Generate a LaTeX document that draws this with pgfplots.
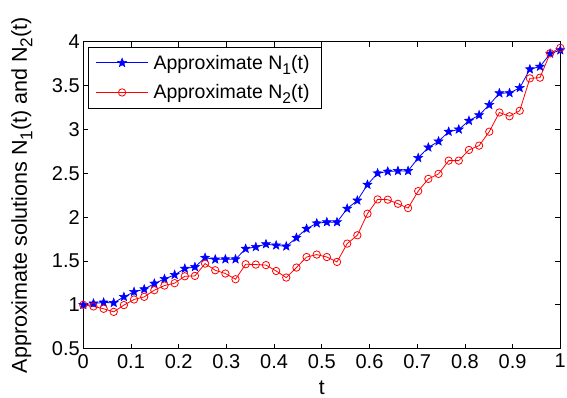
\documentclass[border=0pt]{standalone}
\usepackage{fontspec}
\setmainfont{Liberation Sans}
\usepackage{pgfplots}
\pgfplotsset{compat=1.18}
\usepackage{pgfplotstable}

\newcommand{\sub}[1]{\raisebox{-0.5ex}{\fontsize{0.8em}{0.8em}\selectfont #1}}

\pgfdeclareplotmark{pstar}{%
  \pgfpathmoveto{\pgfpointpolar{90}{1.3*\pgfplotmarksize}}%
  \pgfpathlineto{\pgfpointpolar{126}{0.55*\pgfplotmarksize}}%
  \pgfpathlineto{\pgfpointpolar{162}{1.3*\pgfplotmarksize}}%
  \pgfpathlineto{\pgfpointpolar{198}{0.55*\pgfplotmarksize}}%
  \pgfpathlineto{\pgfpointpolar{234}{1.3*\pgfplotmarksize}}%
  \pgfpathlineto{\pgfpointpolar{270}{0.55*\pgfplotmarksize}}%
  \pgfpathlineto{\pgfpointpolar{306}{1.3*\pgfplotmarksize}}%
  \pgfpathlineto{\pgfpointpolar{342}{0.55*\pgfplotmarksize}}%
  \pgfpathlineto{\pgfpointpolar{18}{1.3*\pgfplotmarksize}}%
  \pgfpathlineto{\pgfpointpolar{54}{0.55*\pgfplotmarksize}}%
  \pgfpathclose
  \pgfusepathqfillstroke
}

\pgfplotstableread{
t      n1     n2
0.0000 1.000  1.000
0.0213 1.016  0.982
0.0426 1.027  0.955
0.0638 1.023  0.920
0.0851 1.091  0.997
0.1064 1.148  1.061
0.1277 1.178  1.091
0.1489 1.243  1.167
0.1702 1.295  1.220
0.1915 1.342  1.247
0.2128 1.413  1.326
0.2340 1.432  1.330
0.2553 1.537  1.470
0.2766 1.518  1.394
0.2979 1.520  1.357
0.3191 1.520  1.292
0.3404 1.640  1.463
0.3617 1.660  1.459
0.3830 1.692  1.453
0.4043 1.678  1.386
0.4255 1.667  1.311
0.4468 1.765  1.425
0.4681 1.868  1.545
0.4894 1.930  1.573
0.5106 1.943  1.545
0.5319 1.943  1.489
0.5532 2.097  1.698
0.5745 2.190  1.793
0.5957 2.370  2.039
0.6170 2.500  2.202
0.6383 2.520  2.199
0.6596 2.527  2.152
0.6809 2.527  2.103
0.7021 2.675  2.297
0.7234 2.795  2.436
0.7447 2.864  2.493
0.7660 2.974  2.644
0.7872 3.000  2.644
0.8085 3.099  2.766
0.8298 3.163  2.815
0.8511 3.280  2.974
0.8723 3.413  3.193
0.8936 3.415  3.150
0.9149 3.473  3.213
0.9362 3.686  3.582
0.9574 3.716  3.590
0.9787 3.864  3.868
1.0000 3.903  3.930
}\datatable

\begin{document}
\begin{tikzpicture}
\begin{axis}[
  name=ax,
  scale only axis,
  width=477pt, height=307pt,
  xmin=0, xmax=1, ymin=0.5, ymax=4,
  xtick={0,0.1,...,1},
  ytick={0.5,1,...,4},
  tick align=inside,
  xtick pos=both, ytick pos=both,
  xticklabel pos=lower, yticklabel pos=left,
  major tick length=5pt,
  axis line style={black, line width=0.8pt},
  every tick/.style={black, line width=0.8pt},
  /pgf/number format/assume math mode=true,
  tick label style={font=\fontsize{20}{24}\selectfont},
  xticklabel style={yshift=-2pt},
  yticklabel style={xshift=0pt},
  xlabel={t},
  ylabel={Approximate solutions N\sub{1}(t) and N\sub{2}(t)},
  every axis x label/.style={at={(axis description cs:0.5,0)}, anchor=base, yshift=-45.5pt, font=\fontsize{21}{25}\selectfont},
  every axis y label/.style={at={(axis description cs:0,0.5)}, xshift=-56.5pt, rotate=90, anchor=base, font=\fontsize{21.5}{25}\selectfont},
  legend style={at={(axis description cs:0.0105,0.984)}, anchor=north west,
    draw=black, line width=0.8pt, font=\fontsize{19.5}{23}\selectfont,
    inner xsep=7pt, inner ysep=6pt, row sep=10pt,
    nodes={inner xsep=5pt}},
  legend cell align=left,
  legend image code/.code={\draw[mark repeat=2,mark phase=2,#1] plot coordinates {(0pt,0pt) (26pt,0pt) (52pt,0pt)};},
]
\addplot[blue, line width=0.8pt, mark=pstar, mark size=3.6pt, mark options={fill=blue, line width=0.5pt}] table[x=t, y=n1] {\datatable};
\addlegendentry{Approximate N\sub{1}(t)}
\addplot[red, line width=0.8pt, mark=o, mark size=3.7pt, mark options={line width=0.8pt}] table[x=t, y=n2] {\datatable};
\addlegendentry{Approximate N\sub{2}(t)}
\end{axis}
\pgfresetboundingbox
\path[use as bounding box] ([shift={(-83.3pt,-49.3pt)}]ax.south west) rectangle ([shift={(483.7pt,348.7pt)}]ax.south west);
\end{tikzpicture}
\end{document}
